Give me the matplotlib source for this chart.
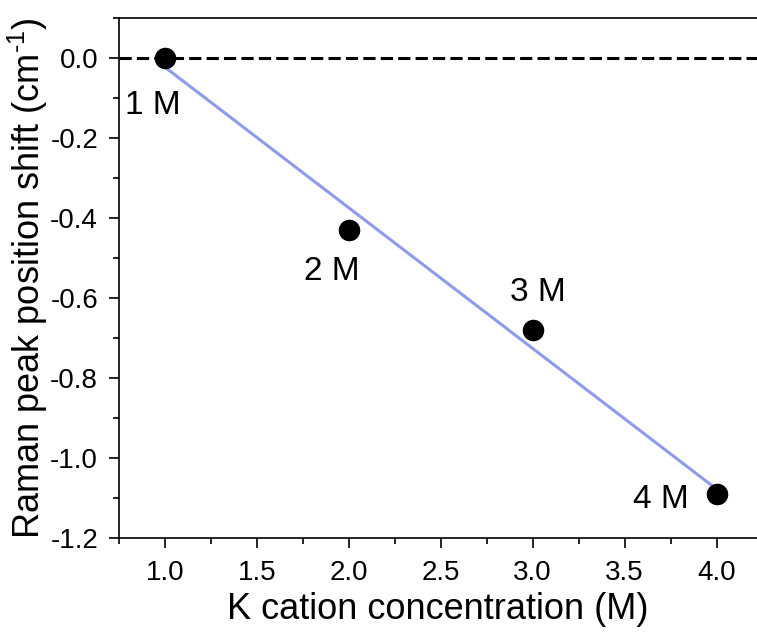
import numpy as np
import matplotlib
matplotlib.use('Agg')
import matplotlib.pyplot as plt
from matplotlib.ticker import MultipleLocator

plt.rcParams['font.family'] = ['Liberation Sans', 'DejaVu Sans']
plt.rcParams['mathtext.fontset'] = 'custom'
plt.rcParams['mathtext.rm'] = 'Liberation Sans'
plt.rcParams['axes.unicode_minus'] = False

# data
conc = [1.0, 2.0, 3.0, 4.0]
shift = [0.0, -0.43, -0.68, -1.09]
point_labels = ['1 M', '2 M', '3 M', '4 M']
label_pos = [(0.935, -0.118), (1.906, -0.534), (3.03, -0.587), (3.70, -1.105)]

fig = plt.figure(figsize=(7.57, 6.32), dpi=100)
ax = fig.add_axes([0.157, 0.149, 0.843, 0.822])

# zero reference
ax.axhline(0, color='black', lw=2.2, dashes=(4, 1.7), zorder=1)

# linear fit
slope, intercept = np.polyfit(conc, shift, 1)
xf = np.array([conc[0], conc[-1]])
ax.plot(xf, slope * xf + intercept, color='#8f9bea', lw=2.2, zorder=2)

ax.plot(conc, shift, 'o', color='black', ms=14.5, zorder=3)

for lab, (lx, ly) in zip(point_labels, label_pos):
    ax.text(lx, ly, lab, fontsize=24, ha='center', va='center')

ax.set_xlim(0.75, 4.22)
ax.set_ylim(-1.2, 0.1)
ax.xaxis.set_minor_locator(MultipleLocator(0.25))
ax.yaxis.set_major_locator(MultipleLocator(0.2))
ax.yaxis.set_minor_locator(MultipleLocator(0.1))
ax.set_xticks(np.arange(1.0, 4.01, 0.5))
ax.tick_params(which='major', direction='out', length=7, width=1.2, labelsize=20)
ax.tick_params(which='minor', direction='out', length=4, width=1.2)
ax.tick_params(axis='x', pad=9)
ax.tick_params(axis='y', pad=8)
ax.spines['right'].set_visible(False)
for s in ['left', 'bottom', 'top']:
    ax.spines[s].set_linewidth(1.2)

ax.set_xlabel('K cation concentration (M)', fontsize=26, labelpad=4)
ax.set_ylabel(r'Raman peak position shift (cm$^{\text{-1}}$)', fontsize=26, labelpad=0)

fig.savefig('out.png', dpi=100)
